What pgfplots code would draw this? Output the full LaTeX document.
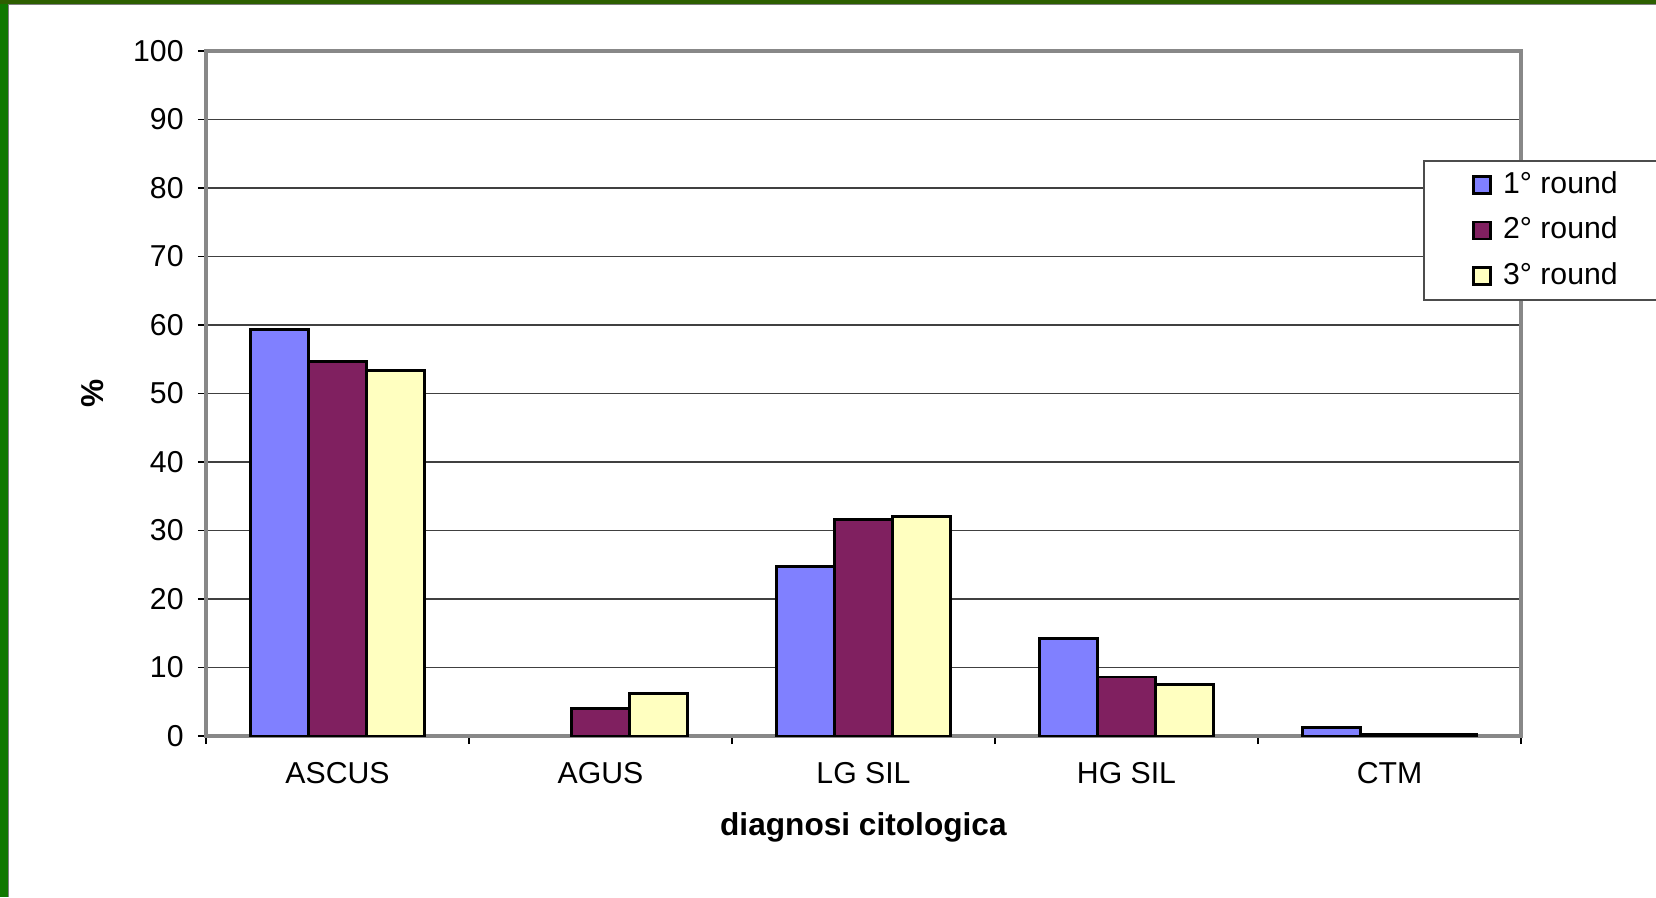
\documentclass[border=0pt]{standalone}
\usepackage{fontspec}
\setmainfont{Liberation Sans}
\usepackage{pgfplots}
\pgfplotsset{compat=1.18}
\definecolor{roundA}{RGB}{128,128,255}
\definecolor{roundB}{RGB}{128,32,96}
\definecolor{roundC}{RGB}{255,255,192}
\definecolor{frameG}{RGB}{16,120,0}
\definecolor{topG}{RGB}{45,95,0}
\definecolor{boxgray}{RGB}{136,136,136}

\begin{document}
\begin{tikzpicture}
\useasboundingbox (0,0) rectangle (16.56,8.97);
\clip (0,0) rectangle (16.56,8.97);
\fill[white] (0,0) rectangle (16.56,8.97);
\fill[frameG] (0,0) rectangle (0.08,8.97);
\fill[topG] (0,8.93) rectangle (16.56,8.97);
\draw[gray] (0.085,0) -- (0.085,8.925) -- (16.56,8.925);
\begin{axis}[
  at={(2.06cm,1.61cm)}, anchor=south west,
  scale only axis, width=13.15cm, height=6.85cm,
  ymin=0, ymax=100, ytick={0,10,...,100},
  xmin=-0.5, xmax=4.5,
  xtick={0,...,4},
  xticklabels={ASCUS,AGUS,LG SIL,HG SIL,CTM},
  minor xtick={-0.5,0.5,...,4.5},
  major x tick style={draw=none},
  tick align=outside,
  major tick length=0.08cm, minor tick length=0.08cm,
  tick style={black, line width=0.5pt},
  xtick pos=bottom, ytick pos=left,
  ymajorgrids,
  major grid style={black!75, line width=0.4pt},
  axis line style={boxgray, line width=1pt},
  /pgf/number format/assume math mode=true,
  ticklabel style={font=\fontsize{8.6}{10}\selectfont},
  xticklabel style={anchor=center, yshift=-0.295cm},
  yticklabel style={anchor=east, xshift=-0.02cm},
  ylabel={\textbf{\%}},
  ylabel style={at={(axis description cs:-0.086,0.5)}, anchor=center, font=\fontsize{9}{10}\selectfont},
  xlabel={\textbf{diagnosi citologica}},
  xlabel style={at={(axis description cs:0.5,0)}, anchor=center, yshift=-0.91cm, font=\fontsize{9}{10}\selectfont},
  ybar=0pt, bar width=0.58cm,
  every axis plot/.append style={draw=black, line width=0.8pt},
  legend image code/.code={\draw[#1, draw=black, line width=0.7pt] (0cm,-0.085cm) rectangle (0.17cm,0.085cm);},
  legend cell align=left,
  legend style={at={(axis description cs:0.9255,0.8409)}, anchor=north west,
    draw=black!70, line width=0.5pt, fill=white,
    font=\fontsize{8.6}{10}\selectfont,
    inner xsep=13.8pt, inner ysep=1pt, row sep=1.2pt,
    /tikz/every odd column/.append style={column sep=1.2pt}},
]
\addplot[fill=roundA] coordinates {(0,59.3) (2,24.7) (3,14.2) (4,1.2)};
\addlegendentry{1° round}
\addplot[fill=roundB] coordinates {(0,54.7) (1,4.0) (2,31.6) (3,8.6) (4,0.2)};
\addlegendentry{2° round}
\addplot[fill=roundC] coordinates {(0,53.3) (1,6.2) (2,32.0) (3,7.5) (4,0.2)};
\addlegendentry{3° round}
\end{axis}
\end{tikzpicture}
\end{document}
